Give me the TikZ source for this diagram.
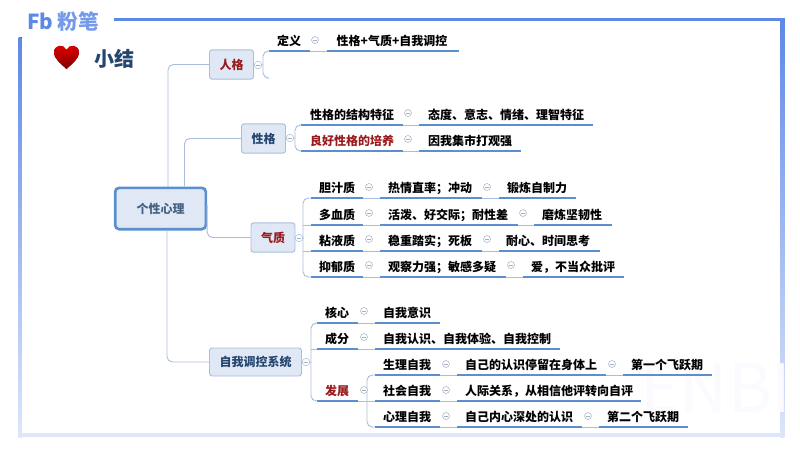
\documentclass[tikz,border=0pt]{standalone}
\usepackage{fontspec}
\setmainfont{Noto Sans CJK SC}
\usetikzlibrary{positioning}
\definecolor{linkblue}{HTML}{A9BEDC}
\definecolor{edgeblue}{HTML}{5B8FD0}
\definecolor{boxfill}{HTML}{DFE8F4}
\definecolor{navy}{HTML}{24466F}
\definecolor{darkred}{HTML}{9A1B1E}
\definecolor{framepale}{HTML}{DDE6FA}
\definecolor{framemain}{HTML}{5E88E6}
\definecolor{foldgray}{HTML}{A3AEBF}
\tikzset{main box/.style={rectangle,rounded corners=2pt,fill=boxfill,draw=linkblue,line width=0.7pt,font=\bfseries\fontsize{9}{10}\selectfont,text=navy,inner sep=0pt},}
\tikzset{root box/.style={main box,draw=edgeblue,line width=2pt,rounded corners=3pt,text=navy!85},}
\tikzset{leaf/.style={rectangle,font=\bfseries\fontsize{9}{10}\selectfont,text=black,inner sep=0pt},}
\tikzset{fold/.style={circle,draw=foldgray,fill=white,line width=0.4pt,minimum size=5.2pt,inner sep=0pt,path picture={\draw[foldgray,line width=0.35pt] ([xshift=1.2pt]path picture bounding box.west) -- ([xshift=-1.2pt]path picture bounding box.east);}},}
\tikzset{link/.style={draw=linkblue,line width=0.7pt,rounded corners=4pt},}
\tikzset{rule/.style={draw=edgeblue,line width=1.3pt},}
% #1 text colour, #2 name, #3 left, #4 right, #5 rule y, #6 text centre x, #7 text
\newcommand{\leafword}[7][black]{%
  \coordinate (#2L) at (#3,#5);
  \coordinate (#2R) at (#4,#5);
  \node[leaf,text=#1] (#2) at (#6,#5-10) {#7};
  \draw[rule] (#2L) -- (#2R);
}
\begin{document}
\begin{tikzpicture}[x=0.75pt,y=-0.75pt]
    \useasboundingbox (0,0) rectangle (800,450);
    % frame
    \fill[framepale] (18,433) rectangle (785,437);
    \fill[top color=framemain,bottom color=framepale] (780.5,19) rectangle (784.5,437);
    \fill[top color=framemain,bottom color=framepale] (18.5,37) rectangle (21.5,437);
    \fill[framemain] (114,17.5) rectangle (784.5,21);
    \node[text=blue!2,font=\fontsize{50}{56}\selectfont,inner sep=0pt] (mark) at (716,388) {ENBI};
    % logo and title
    \node[text=framemain,font=\bfseries\fontsize{15.5}{18}\selectfont,inner sep=0pt] (logo) at (40.5,21) {Fb};
    \node[text=framemain!85,font=\bfseries\fontsize{15.5}{18}\selectfont,inner sep=0pt] (brand) at (78,21.5) {粉笔};
    \fill[top color=red!90!black,bottom color=red!50!black] (66.5,69) .. controls (60,63) and (54,58) .. (54,53) .. controls (54,44) and (64,44) .. (66.5,50) .. controls (69,44) and (79,44) .. (79,53) .. controls (79,58) and (73,63) .. (66.5,69) -- cycle;
    \node[text=navy,font=\bfseries\fontsize{15}{18}\selectfont,inner sep=0pt] (title) at (114,59) {小结};

    % branches
    \node[root box,minimum width=68pt,minimum height=31pt] (root) at (160.5,208.5) {个性心理};
    \node[main box,minimum width=33pt,minimum height=22pt,text=darkred] (person) at (231.5,64.5) {人格};
    \node[main box,minimum width=33pt,minimum height=22pt] (trait) at (263.5,138.5) {性格};
    \node[main box,minimum width=33pt,minimum height=22pt,text=darkred] (temper) at (273,237.5) {气质};
    \node[main box,minimum width=69pt,minimum height=21pt] (regul) at (255.5,362) {自我调控系统};

    \draw[link] (root.north -| 168,0) |- (person.west);
    \draw[link] (root.north -| 184.5,0) |- (trait.west);
    \draw[link] (root.east |- 0,205) |- (temper.west);
    \draw[link] (root.south -| 167,0) |- (regul.west);

    \leafword{def}{269}{310}{51}{289}{定义}
    \leafword{defv}{327}{459}{51}{392}{性格+气质+自我调控}
    \leafword{struct}{301}{403}{125}{352}{性格的结构特征}
    \leafword{structv}{419}{593}{125}{506}{态度、意志、情绪、理智特征}
    \leafword[darkred]{good}{301}{403}{151}{352}{良好性格的培养}
    \leafword{goodv}{419}{521}{151}{470}{因我集市打观强}

    \leafword{cho}{311}{363}{198}{337}{胆汁质}
    \leafword{chov}{380}{482}{198}{430}{热情直率；冲动}
    \leafword{choz}{499}{576}{198}{537}{锻炼自制力}
    \leafword{san}{311}{363}{225}{337}{多血质}
    \leafword{sanv}{380}{518}{225}{448}{活泼、好交际；耐性差}
    \leafword{sanz}{534}{612}{225}{572}{磨炼坚韧性}
    \leafword{phl}{311}{363}{251}{337}{粘液质}
    \leafword{phlv}{380}{482}{251}{430}{稳重踏实；死板}
    \leafword{phlz}{499}{600}{251}{548}{耐心、时间思考}
    \leafword{mel}{311}{363}{277}{337}{抑郁质}
    \leafword{melv}{380}{506}{277}{442}{观察力强；敏感多疑}
    \leafword{melz}{523}{624}{277}{573}{爱，不当众批评}

    \leafword{core}{317}{358}{323}{337}{核心}
    \leafword{corev}{375}{440}{323}{407}{自我意识}
    \leafword{part}{317}{358}{349}{337}{成分}
    \leafword{partv}{375}{560}{349}{467}{自我认识、自我体验、自我控制}
    \leafword[darkred]{grow}{317}{358}{401}{337}{发展}
    \leafword{body}{375}{440}{375}{407}{生理自我}
    \leafword{bodyv}{457}{606}{375}{531}{自己的认识停留在身体上}
    \leafword{bodyz}{623}{712}{375}{667}{第一个飞跃期}
    \leafword{soc}{375}{440}{401}{407}{社会自我}
    \leafword{socv}{457}{641}{401}{549}{人际关系，从相信他评转向自评}
    \leafword{mind}{375}{440}{427}{407}{心理自我}
    \leafword{mindv}{457}{582}{427}{519}{自己内心深处的认识}
    \leafword{mindz}{599}{688}{427}{643}{第二个飞跃期}

    % brackets
    \draw[link] (defL) -| (263,78) -- ++(3,0);
    \draw[link] (structL) -| (295,138) |- (goodL);
    \draw[link] (choL) -| (303,238) |- (melL);
    \draw[link] (sanL) -- (303,225);
    \draw[link] (phlL) -- (303,251);
    \draw[link] (coreL) -| (311,362) |- (growL);
    \draw[link] (partL) -- (311,349);
    \draw[link] (bodyL) -| (367,401) |- (mindL);
    \draw[link] (growR) -- (socL);

    % short links between the columns
    \foreach \a/\b in {def/defv,struct/structv,good/goodv,cho/chov,san/sanv,phl/phlv,mel/melv,
      chov/choz,sanv/sanz,phlv/phlz,melv/melz,core/corev,part/partv,
      body/bodyv,bodyv/bodyz,soc/socv,mind/mindv,mindv/mindz}
      {\draw[link] (\a R) -- (\b L);}

    % parent folds sit on the links
    \foreach \n/\x/\y/\p in {fa/258/65/person,fb/290/138/trait,fc/299/238/temper,fd/306/362/regul}
      {\draw[link] (\p.east) -- (\x+5,\y);
       \node[fold,minimum size=5.6pt,draw=linkblue] (\n) at (\x,\y) {};}
    % leaf folds
    \foreach \n/\x/\y in {ga/315/40,gb/408/113,gc/408/139,gd/369/187,ge/487/187,gf/369/213,gg/523/213,
      gh/369/239,gi/487/239,gj/369/265,gk/511/265,gl/364/311,gm/364/337,gn/364/390,
      go/446/364,gp/612/364,gq/446/390,gr/446/416,gs/588/416}
      {\node[fold] (\n) at (\x,\y) {};}
\end{tikzpicture}
\end{document}
